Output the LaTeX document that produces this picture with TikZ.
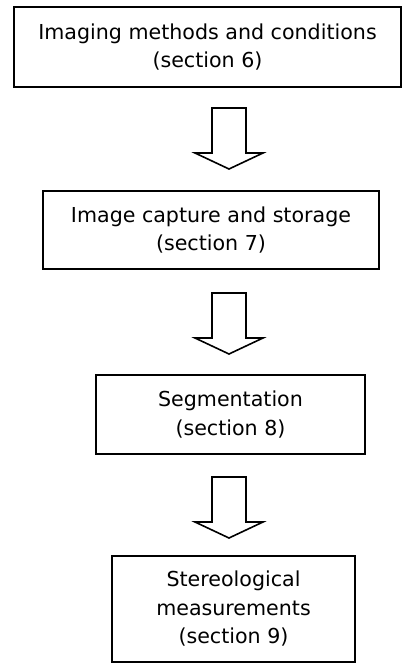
\documentclass[tikz,border=0pt]{standalone}
\usepackage{fontspec}
\setmainfont{DejaVu Sans}
\begin{document}
\begin{tikzpicture}[x=1pt,y=-1pt,
  box/.style={draw=black, line width=1.7pt, inner sep=0pt, align=center,
    font=\fontsize{20.6}{28.5}\selectfont, text=black},
  blockarrow/.pic={\draw[line width=1.6pt, line join=miter, draw=black]
    (-17,0) -- (-17,45) -- (-34,45) -- (0,61) -- (34,45) -- (17,45) -- (17,0) -- cycle;}
]
\useasboundingbox (0,0) rectangle (403,664);
\node[box, minimum width=387pt, minimum height=80pt] (b1) at (207.5,47)
  {Imaging methods and conditions\\(section 6)};
\node[box, minimum width=336pt, minimum height=78pt] (b2) at (211,230)
  {Image capture and storage\\(section 7)};
\node[box, minimum width=269pt, minimum height=79pt] (b3) at (230.5,414.5)
  {Segmentation\\(section 8)};
\node[box, minimum width=243pt, minimum height=106pt] (b4) at (233.5,609)
  {Stereological\\measurements\\(section 9)};
\coordinate (a1) at (229,108);
\coordinate (a2) at (229,293);
\coordinate (a3) at (229,477);
\pic at (a1) {blockarrow};
\pic at (a2) {blockarrow};
\pic at (a3) {blockarrow};
\end{tikzpicture}
\end{document}
